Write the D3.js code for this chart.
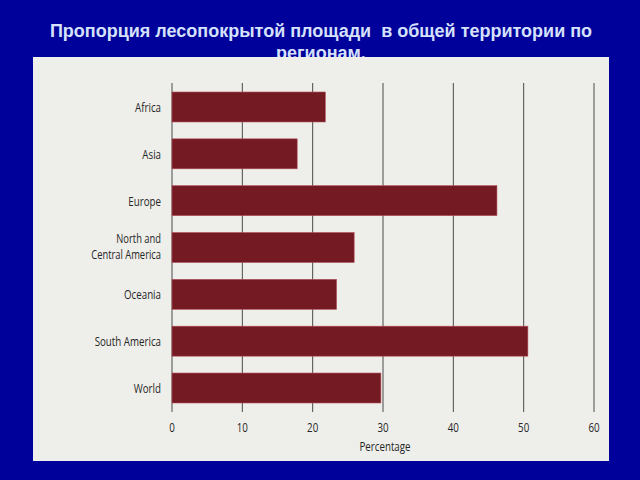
<!DOCTYPE html>
<html><head><meta charset="utf-8">
<script src="https://cdn.jsdelivr.net/npm/d3@7"></script>
<style>
html,body{margin:0;padding:0;background:#00009a;}
svg{display:block;}
</style></head>
<body>
<svg id="c" width="640" height="480"></svg>
<script>
const categories = ["Africa", "Asia", "Europe", "North and\nCentral America", "Oceania", "South America", "World"];
const values = [21.8, 17.8, 46.2, 25.9, 23.4, 50.6, 29.7];
const xTicks = [0, 10, 20, 30, 40, 50, 60];
const titleLines = ["Пропорция лесопокрытой площади  в общей территории по", "регионам."];
const xLabel = "Percentage";

const svg = d3.select("#c");
svg.append("rect").attr("x",0).attr("y",0).attr("width",640).attr("height",480).attr("fill","#00009a");

// title
const title = svg.append("text").attr("text-anchor","middle")
  .attr("font-family","'Liberation Sans', Arial, sans-serif").attr("font-weight","bold")
  .attr("font-size",18).attr("fill","#d6e2fc");
titleLines.forEach((t,i)=>{
  title.append("tspan").attr("x",321).attr("y",37+i*22).style("white-space","pre").text(t);
});

// panel
svg.append("rect").attr("x",33).attr("y",57).attr("width",576).attr("height",404).attr("fill","#eeeeea");

const x = d3.scaleLinear().domain([0,60]).range([172,594]);
const y = d3.scaleBand().domain(categories).range([92,403]).paddingInner(0.36).paddingOuter(0);

const font = "'Open Sans', sans-serif";
const sx = 0.75;
function condText(parent, px, py, anchor, size, text){
  parent.append("g").attr("transform",`translate(${px},${py}) scale(${sx},1)`)
    .append("text").attr("text-anchor",anchor).attr("font-family",font)
    .attr("font-size",size).attr("fill","#262626").text(text);
}

// gridlines
svg.append("g").selectAll("line").data(xTicks).join("line")
  .attr("x1",d=>x(d)).attr("x2",d=>x(d)).attr("y1",83).attr("y2",412)
  .attr("stroke","#4a4a4a").attr("stroke-width",1);

// bars
svg.append("g").selectAll("rect").data(values).join("rect")
  .attr("x",x(0)).attr("y",(d,i)=>y(categories[i]))
  .attr("width",d=>x(d)-x(0)).attr("height",y.bandwidth())
  .attr("fill","#741a22").attr("stroke","#b5505a").attr("stroke-width",0.6);

// category labels
const lab = svg.append("g");
categories.forEach(c=>{
  const lines = c.split("\n");
  const cy = y(c)+y.bandwidth()/2;
  const multi = lines.length>1;
  const base = cy + 5 - (multi?1.5:0);
  lines.forEach((l,j)=>{
    condText(lab, 161, base + (j-(lines.length-1)/2)*(multi?16:0), "end", multi?12.5:13, l);
  });
});

// tick labels
const tl = svg.append("g");
xTicks.forEach(d=>condText(tl, x(d), 431.5, "middle", 13, String(d)));

condText(svg, 385, 450.5, "middle", 13, xLabel);
</script>
</body></html>
